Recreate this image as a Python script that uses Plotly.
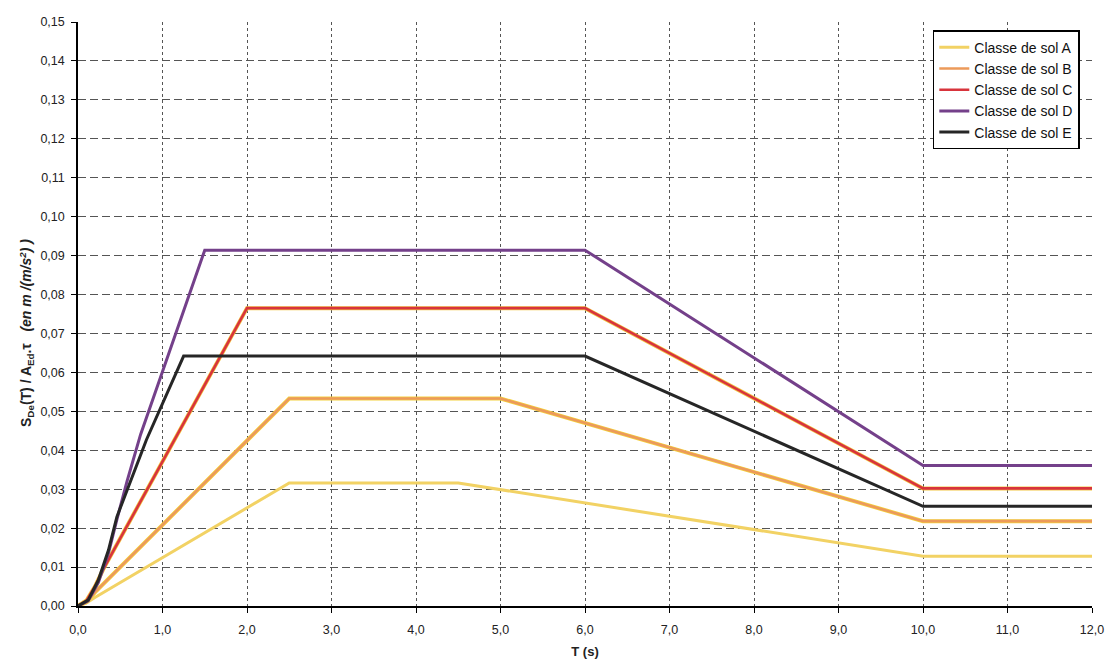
import plotly.graph_objects as go

# ---- data ----
T_A = [0, 0.1, 0.2, 2.5, 4.5, 10.0, 12.0]
S_A = [0, 0.0008, 0.0022, 0.0316, 0.0316, 0.0128, 0.0128]

T_B = [0, 0.1, 0.2, 2.5, 5.0, 10.0, 12.0]
S_B = [0, 0.0010, 0.0035, 0.0533, 0.0533, 0.0218, 0.0218]

T_C = [0, 0.1, 0.2, 0.3, 2.0, 6.0, 10.0, 12.0]
S_C = [0, 0.0014, 0.0050, 0.0095, 0.0765, 0.0765, 0.0302, 0.0302]

T_D = [0, 0.12, 0.24, 0.36, 0.46, 0.58, 0.74, 1.5, 6.0, 10.0, 12.0]
S_D = [0, 0.0013, 0.0060, 0.0135, 0.0222, 0.0320, 0.0440, 0.0914, 0.0914, 0.0361, 0.0361]

T_E = [0, 0.12, 0.24, 0.36, 0.46, 0.81, 1.25, 6.0, 10.0, 12.0]
S_E = [0, 0.0015, 0.0066, 0.0143, 0.0229, 0.0427, 0.0642, 0.0642, 0.0256, 0.0256]

names = ["Classe de sol A", "Classe de sol B", "Classe de sol C",
         "Classe de sol D", "Classe de sol E"]
colors = ["#f2d264", "#ec9a5a", "#d8343c", "#74408a", "#262626"]
under = [None, "#f4d23c", "#f2c640", None, None]

x_ticks = [0, 1, 2, 3, 4, 5, 6, 7, 8, 9, 10, 11, 12]
y_ticks = [i / 100 for i in range(0, 16)]

series = [(T_A, S_A), (T_B, S_B), (T_C, S_C), (T_D, S_D), (T_E, S_E)]

fig = go.Figure()
for (t, s), name, c, u in zip(series, names, colors, under):
    if u:
        fig.add_trace(go.Scatter(x=t, y=s, mode="lines", showlegend=False,
                                 hoverinfo="skip", line=dict(color=u, width=4)))
    fig.add_trace(go.Scatter(x=t, y=s, mode="lines", name=name,
                             line=dict(color=c, width=3 if u is None else 2.6)))

font = "Liberation Sans, Arial, sans-serif"
fig.update_layout(
    width=1113, height=662,
    margin=dict(l=78, r=21, t=22, b=56),
    paper_bgcolor="white", plot_bgcolor="white",
    separators=", ",
    font=dict(family=font, size=12, color="#222"),
    showlegend=True,
    legend=dict(x=0.843, y=0.986, xanchor="left", yanchor="top",
                bgcolor="white", bordercolor="black", borderwidth=1.5,
                font=dict(size=14, color="#111"), tracegroupgap=0,
                itemwidth=30),
    xaxis=dict(range=[0, 12], tickvals=x_ticks, tickformat=".1f",
               showgrid=True, gridcolor="#555", gridwidth=1, griddash="3px,3px",
               showline=True, linecolor="black", linewidth=1.5,
               ticks="outside", ticklen=5, tickcolor="black",
               ticklabelstandoff=6, automargin=False,
               zeroline=False,
               title=dict(text="<b>T (s)</b>", font=dict(size=13), standoff=11),
               tickfont=dict(size=12.5)),
    yaxis=dict(range=[0, 0.15], tickvals=y_ticks, tickformat=".2f",
               showgrid=True, gridcolor="#555", gridwidth=1, griddash="8px,4px",
               showline=True, linecolor="black", linewidth=1.5,
               ticks="outside", ticklen=5, tickcolor="black",
               ticklabelstandoff=4, automargin=False,
               zeroline=False, tickfont=dict(size=12.5)),
)

fig.add_annotation(
    text="<b>S<sub>De</sub>(T) / A<sub>Ed</sub>.τ \u00a0\u00a0<i>(en m /(m/s<sup>2</sup>) )</i></b>",
    xref="paper", yref="paper", x=-0.051, y=0.468,
    xanchor="center", yanchor="middle", textangle=-90, showarrow=False,
    font=dict(size=14, color="#222"))

fig.write_html("out.html")
